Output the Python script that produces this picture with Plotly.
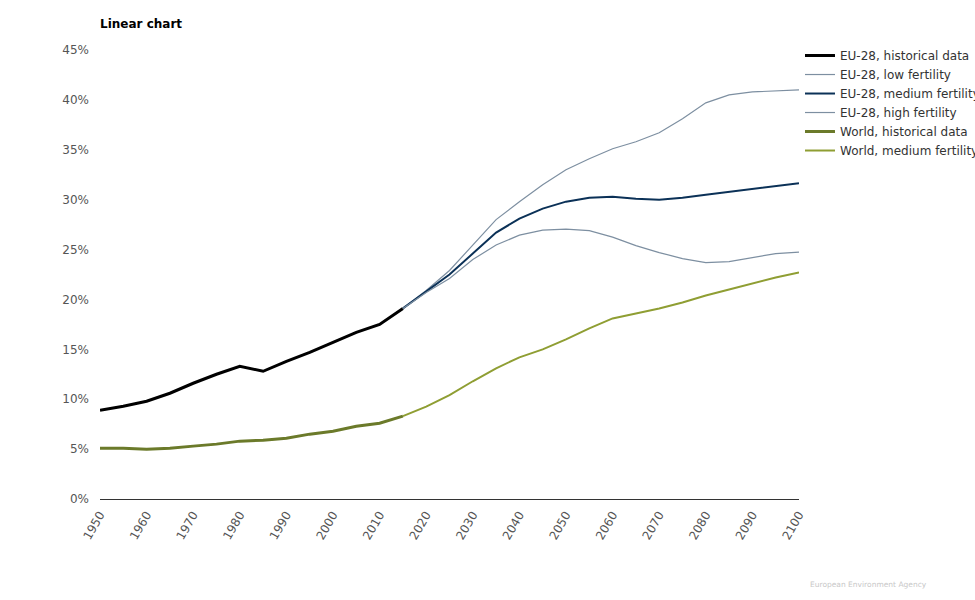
import plotly.graph_objects as go

years_hist = [1950, 1955, 1960, 1965, 1970, 1975, 1980, 1985, 1990, 1995, 2000, 2005, 2010, 2015]
years_proj = [2015, 2020, 2025, 2030, 2035, 2040, 2045, 2050, 2055, 2060, 2065, 2070, 2075, 2080, 2085, 2090, 2095, 2100]

eu_hist = [8.9, 9.3, 9.8, 10.6, 11.6, 12.5, 13.3, 12.8, 13.8, 14.7, 15.7, 16.7, 17.5, 19.1]
eu_low = [19.1, 20.9, 22.9, 25.4, 28.0, 29.8, 31.5, 33.0, 34.1, 35.1, 35.8, 36.7, 38.1, 39.7, 40.5, 40.8, 40.9, 41.0]
eu_medium = [19.1, 20.8, 22.5, 24.6, 26.7, 28.1, 29.1, 29.8, 30.2, 30.3, 30.1, 30.0, 30.2, 30.5, 30.8, 31.1, 31.4, 31.65]
eu_high = [19.1, 20.7, 22.1, 24.0, 25.45, 26.45, 26.95, 27.05, 26.9, 26.25, 25.4, 24.7, 24.1, 23.7, 23.8, 24.2, 24.6, 24.75]
world_hist = [5.08, 5.08, 4.98, 5.08, 5.3, 5.5, 5.8, 5.9, 6.1, 6.5, 6.8, 7.3, 7.6, 8.3]
world_medium = [8.3, 9.25, 10.4, 11.8, 13.1, 14.2, 15.0, 16.0, 17.1, 18.1, 18.6, 19.1, 19.7, 20.4, 21.0, 21.6, 22.2, 22.7]

x_ticks = list(range(1950, 2101, 10))
y_ticks = list(range(0, 46, 5))

FONT = "DejaVu Sans, Verdana, sans-serif"

fig = go.Figure()
fig.add_trace(go.Scatter(x=years_hist, y=eu_hist, mode="lines", name="EU-28, historical data",
                         line=dict(color="#000000", width=3)))
fig.add_trace(go.Scatter(x=years_proj, y=eu_low, mode="lines", name="EU-28, low fertility",
                         line=dict(color="#7d8fa1", width=1.2)))
fig.add_trace(go.Scatter(x=years_proj, y=eu_medium, mode="lines", name="EU-28, medium fertility",
                         line=dict(color="#0b3157", width=2)))
fig.add_trace(go.Scatter(x=years_proj, y=eu_high, mode="lines", name="EU-28, high fertility",
                         line=dict(color="#7d8fa1", width=1.2)))
fig.add_trace(go.Scatter(x=years_hist, y=world_hist, mode="lines", name="World, historical data",
                         line=dict(color="#6b7a2a", width=3)))
fig.add_trace(go.Scatter(x=years_proj, y=world_medium, mode="lines", name="World, medium fertility",
                         line=dict(color="#8f9e33", width=2)))

fig.update_layout(
    width=975, height=600,
    margin=dict(l=100, r=176, t=50, b=101, autoexpand=False),
    paper_bgcolor="white", plot_bgcolor="white",
    font=dict(family=FONT, size=12, color="#555555"),
    title=dict(text="<b>Linear chart</b>", x=100 / 975, xanchor="left", y=1 - 24 / 600, yanchor="middle",
               font=dict(family=FONT, size=12, color="#000000")),
    showlegend=True,
    legend=dict(x=1.0014, xanchor="left", y=1.02, yanchor="top", font=dict(family=FONT, size=12, color="#333333"),
                bgcolor="rgba(0,0,0,0)", tracegroupgap=0, itemwidth=30),
    xaxis=dict(range=[1950, 2100], tickvals=x_ticks, ticktext=[str(v) for v in x_ticks], tickangle=-60,
               showgrid=False, zeroline=False, showline=True, linecolor="#333333", linewidth=1,
               ticks="", ticklabelstandoff=3, automargin=False,
               tickfont=dict(family=FONT, size=12, color="#555555")),
    yaxis=dict(range=[0, 45], tickvals=y_ticks, ticktext=[f"{v}%" for v in y_ticks],
               showgrid=False, zeroline=False, showline=False, ticks="", ticklabelstandoff=10, automargin=False,
               tickfont=dict(family=FONT, size=12, color="#555555")),
    annotations=[dict(text="European Environment Agency", xref="paper", yref="paper",
                      x=(929 - 100) / 699, y=(499 - 584) / 449, xanchor="right", yanchor="middle",
                      showarrow=False, font=dict(family=FONT, size=7.5, color="#c8c8c8"))],
)

fig.write_html("out.html", config={"displayModeBar": False},
               post_script="document.body.style.margin='0';")
